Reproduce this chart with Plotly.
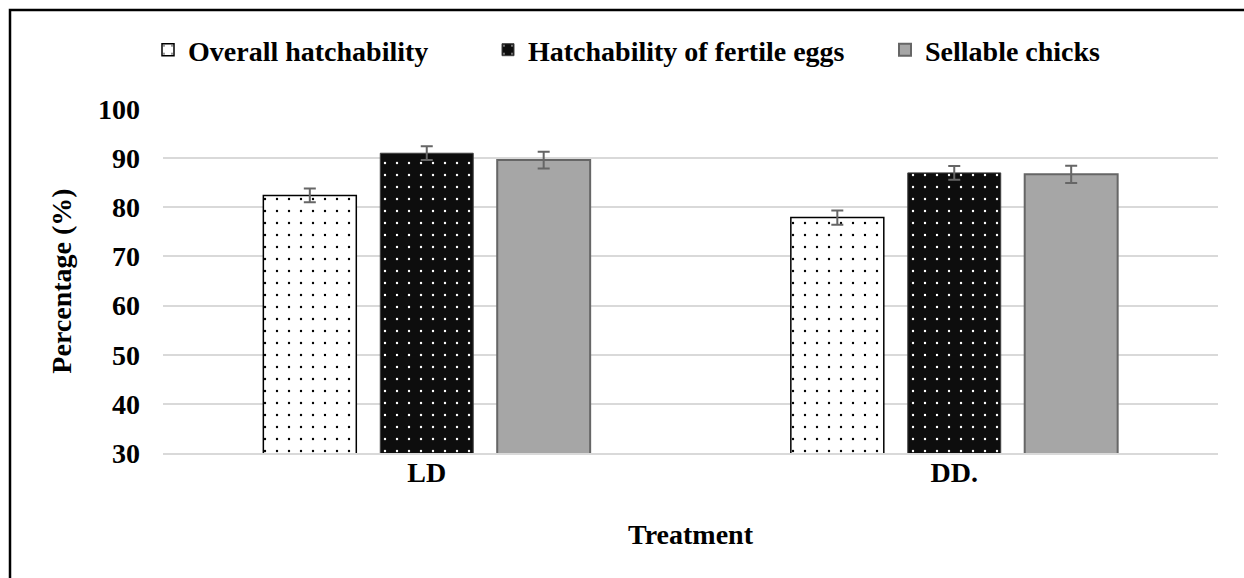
import plotly.graph_objects as go

categories = ["LD", "DD."]
series_names = ["Overall hatchability", "Hatchability of fertile eggs", "Sellable chicks"]
overall = [82.4, 77.9]
overall_err = [1.4, 1.45]
fertile = [91.0, 87.0]
fertile_err = [1.4, 1.4]
sellable = [89.6, 86.7]
sellable_err = [1.7, 1.75]
y_ticks = [30, 40, 50, 60, 70, 80, 90, 100]

W, H = 1244, 578
L, R, T, B = 163, 1218, 109, 453
pw, ph = R - L, B - T

def px_x(p):
    return (p - L) / pw

def px_y(p):
    return (B - p) / ph

FONT = "Liberation Serif"
bold = dict(family=FONT, size=28, color="black", weight="bold")
err_style = dict(type="data", visible=True, color="#666666", thickness=2, width=6)

fig = go.Figure()
fig.add_trace(go.Bar(
    name=series_names[0], x=categories, y=overall,
    error_y=dict(array=overall_err, **err_style),
    marker=dict(color="white",
                line=dict(color="black", width=1.5),
                pattern=dict(shape=".", bgcolor="white", fgcolor="black",
                             size=12, solidity=0.03, fillmode="replace")),
    legend="legend", showlegend=True,
))
fig.add_trace(go.Bar(
    name=series_names[1], x=categories, y=fertile,
    error_y=dict(array=fertile_err, **err_style),
    marker=dict(color="#0d0d0d",
                line=dict(color="#404040", width=1),
                pattern=dict(shape=".", bgcolor="#0d0d0d", fgcolor="white",
                             size=12, solidity=0.03, fillmode="replace")),
    legend="legend2", showlegend=True,
))
fig.add_trace(go.Bar(
    name=series_names[2], x=categories, y=sellable,
    error_y=dict(array=sellable_err, **err_style),
    marker=dict(color="#a6a6a6", line=dict(color="#666666", width=2)),
    legend="legend3", showlegend=True,
))

leg_common = dict(orientation="h", yanchor="middle", xanchor="left",
                  font=bold, bgcolor="rgba(0,0,0,0)", itemwidth=30,
                  y=px_y(50), visible=True)

fig.update_layout(
    width=W, height=H,
    margin=dict(l=L, r=W - R, t=T, b=H - B),
    paper_bgcolor="white", plot_bgcolor="white",
    barmode="group", bargap=0.335, bargroupgap=0.205,
    font=bold,
    showlegend=True,
    legend=dict(x=px_x(148), **leg_common),
    legend2=dict(x=px_x(488), **leg_common),
    legend3=dict(x=px_x(885), **leg_common),
    yaxis=dict(
        range=[30, 100], tickvals=y_ticks, showgrid=True,
        gridcolor="#d9d9d9", gridwidth=1.5, zeroline=False,
        showline=False, ticks="", ticklabelstandoff=22,
        tickfont=bold,
        title=dict(text="Percentage (%)", standoff=18, font=bold),
    ),
    xaxis=dict(
        showline=True, linecolor="#d9d9d9", linewidth=2, ticks="",
        tickfont=bold, ticklabelstandoff=-7,
        title=dict(text="Treatment", standoff=38, font=bold),
    ),
)

# outer frame of the figure
fig.add_shape(type="rect", xref="paper", yref="paper",
              x0=px_x(10), x1=px_x(1260), y0=px_y(600), y1=px_y(10),
              line=dict(color="black", width=2.5), fillcolor="rgba(0,0,0,0)",
              layer="above")

fig.write_html("out.html",
               config={"displayModeBar": False},
               post_script="document.body.style.margin='0';document.body.style.overflow='hidden';")
